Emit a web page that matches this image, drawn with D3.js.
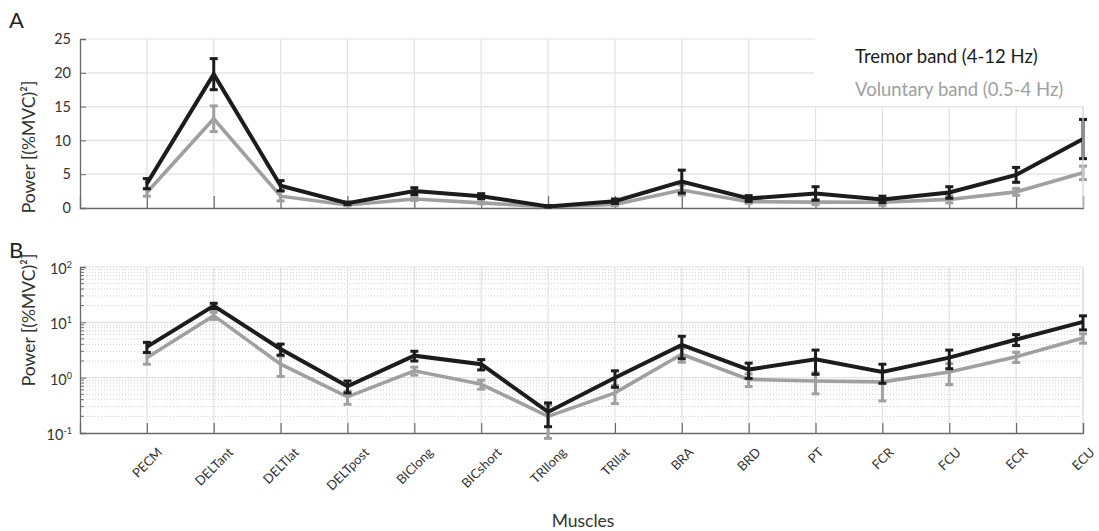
<!DOCTYPE html>
<html>
<head>
<meta charset="utf-8">
<script src="https://cdn.jsdelivr.net/npm/d3@7"></script>
<style>
body{margin:0;background:#fff;}
text{font-family:Lato,'Noto Sans',sans-serif;}
</style>
</head>
<body>
<div id="chart"></div>
<script>
var muscles = ['PECM','DELTant','DELTlat','DELTpost','BIClong','BICshort','TRIlong','TRIlat','BRA','BRD','PT','FCR','FCU','ECR','ECU'];
var tremor = [3.6, 19.8, 3.3, 0.7, 2.5, 1.75, 0.24, 1.0, 3.9, 1.4, 2.15, 1.27, 2.3, 4.9, 10.2];
var tremorErr = [0.75, 2.3, 0.75, 0.17, 0.5, 0.37, 0.11, 0.33, 1.7, 0.43, 1.0, 0.48, 0.85, 1.1, 2.9];
var voluntary = [2.3, 13.2, 1.75, 0.45, 1.33, 0.76, 0.2, 0.53, 2.65, 0.93, 0.87, 0.84, 1.27, 2.38, 5.2];
var voluntaryErr = [0.55, 1.9, 0.7, 0.12, 0.22, 0.14, 0.12, 0.19, 0.75, 0.24, 0.36, 0.46, 0.52, 0.5, 1.0];
var yTicksA = [0, 5, 10, 15, 20, 25];
var yTicksB = [0.1, 1, 10, 100];
var yExpB = ['-1', '0', '1', '2'];
var legendLabels = ['Tremor band (4-12 Hz)', 'Voluntary band (0.5-4 Hz)'];

const width = 1099;
const height = 531;
const left = 80, right = 1083;
const black = '#1c1c1c', grey = '#a0a0a0', gridCol = '#e2e2e2', axisCol = '#6a6a6a';

var svg = d3.select('#chart').append('svg')
    .attr('width', width)
    .attr('height', height);

var xScale = d3.scaleLinear().domain([0, muscles.length]).range([left, right]);
var yA = d3.scaleLinear().domain([0, 25]).range([208, 39]);
var yB = d3.scaleLog().domain([0.1, 100]).range([433, 267]);

var series = [
    {name: 'voluntary', vals: voluntary, err: voluntaryErr, color: grey, w: 3.6},
    {name: 'tremor', vals: tremor, err: tremorErr, color: black, w: 4}
];

function drawPanel(y, top, bottom, isLog){
    var g = svg.append('g');
    // minor dotted grid on log panel
    if (isLog){
        var minor = y.ticks().filter(d => yTicksB.indexOf(d) < 0);
        g.selectAll('.minor').data(minor).join('line')
            .attr('x1', left).attr('x2', right)
            .attr('y1', d => y(d)).attr('y2', d => y(d))
            .attr('stroke', '#cdcdcd').attr('stroke-width', 1)
            .attr('stroke-dasharray', '1,2');
    }
    var majors = isLog ? yTicksB : yTicksA;
    g.selectAll('.hgrid').data(majors.slice(1)).join('line')
        .attr('x1', left).attr('x2', right)
        .attr('y1', d => y(d)).attr('y2', d => y(d))
        .attr('stroke', gridCol).attr('stroke-width', 1.2);
    g.selectAll('.vgrid').data(muscles).join('line')
        .attr('x1', (d, i) => xScale(i + 1)).attr('x2', (d, i) => xScale(i + 1))
        .attr('y1', top).attr('y2', bottom)
        .attr('stroke', gridCol).attr('stroke-width', 1.2);
    g.append('line').attr('x1', right).attr('x2', right).attr('y1', top).attr('y2', bottom)
        .attr('stroke', gridCol).attr('stroke-width', 1.2);

    // bottom axis with inward ticks
    var xAxis = d3.axisBottom(xScale)
        .tickValues(d3.range(1, muscles.length + 1))
        .tickSize(isLog ? -10 : -12)
        .tickFormat('');
    g.append('g').attr('transform', 'translate(0,' + bottom + ')').call(xAxis)
        .call(a => a.select('.domain').attr('stroke', axisCol).attr('stroke-width', 1.3))
        .call(a => a.selectAll('.tick line').attr('stroke', axisCol).attr('stroke-width', 1.2));

    // left axis
    var yAxis = d3.axisLeft(y).tickValues(majors).tickSize(-6).tickPadding(9);
    if (isLog) yAxis.tickFormat('');
    var ya = g.append('g').attr('transform', 'translate(' + left + ',0)').call(yAxis);
    ya.select('.domain').attr('stroke', axisCol).attr('stroke-width', 1.3);
    ya.selectAll('.tick line').attr('stroke', axisCol);
    ya.selectAll('.tick text').attr('fill', '#333').style('font-size', '14.5px')
        .style('font-family', 'Lato, sans-serif');
    if (isLog){
        ya.selectAll('.tick text').each(function(d, i){
            var t = d3.select(this);
            t.attr('x', -8).attr('dy', '0.45em');
            t.append('tspan').text('10');
            t.append('tspan').attr('dy', -6).style('font-size', '9px').text(yExpB[i]);
        });
        var minorT = y.ticks().filter(d => yTicksB.indexOf(d) < 0);
        g.selectAll('.mt').data(minorT).join('line')
            .attr('x1', left).attr('x2', left + 4)
            .attr('y1', d => y(d)).attr('y2', d => y(d))
            .attr('stroke', axisCol).attr('stroke-width', 1);
    }

    // lines and error bars
    series.forEach(function(s){
        var line = d3.line().x((d, i) => xScale(i + 1)).y(d => y(d));
        g.append('path').datum(s.vals)
            .attr('d', line)
            .attr('fill', 'none')
            .attr('stroke', s.color)
            .attr('stroke-width', s.w)
            .attr('stroke-linejoin', 'miter');
        var eb = g.append('g');
        s.vals.forEach(function(v, i){
            var cx = xScale(i + 1);
            var lo = v - s.err[i], hi = v + s.err[i];
            eb.append('line').attr('x1', cx).attr('x2', cx)
                .attr('y1', y(lo)).attr('y2', y(hi))
                .attr('stroke', s.color).attr('stroke-width', 3);
            [lo, hi].forEach(function(e){
                eb.append('line').attr('x1', cx - 4).attr('x2', cx + 4)
                    .attr('y1', y(e)).attr('y2', y(e))
                    .attr('stroke', s.color).attr('stroke-width', 3);
            });
        });
    });
    return g;
}

drawPanel(yA, 39, 208, false);
drawPanel(yB, 267, 433, true);

// legend box (white background over grid)
svg.append('rect').attr('x', 815).attr('y', 30).attr('width', 280).attr('height', 76).attr('fill', '#fff');
svg.append('line').attr('x1', right).attr('x2', right).attr('y1', 106).attr('y2', 208)
    .attr('stroke', gridCol).attr('stroke-width', 1.2);
svg.selectAll('.leg').data(legendLabels).join('text')
    .attr('x', 855)
    .attr('y', (d, i) => 63 + i * 33)
    .attr('fill', (d, i) => i == 0 ? black : grey)
    .style('font-size', '18.5px')
    .text(d => d);

// panel letters
svg.append('text').attr('x', 9).attr('y', 28).style('font-size', '22px').attr('fill', '#222').text('A');
svg.append('text').attr('x', 9).attr('y', 258).style('font-size', '22px').attr('fill', '#222').text('B');

// y titles
[147, 320].forEach(function(cy){
    svg.append('text')
        .attr('transform', 'translate(35,' + cy + ') rotate(-90)')
        .attr('text-anchor', 'middle')
        .attr('fill', '#333')
        .style('font-size', '17.5px')
        .text('Power [(%MVC)²]');
});

// rotated muscle labels, bbox centred on tick, top near y=445
var xFont = 13;
svg.selectAll('.xl').data(muscles).join('text')
    .attr('text-anchor', 'middle')
    .attr('dominant-baseline', 'central')
    .attr('fill', '#333')
    .style('font-size', xFont + 'px')
    .text(d => d)
    .attr('transform', function(d, i){
        var L = this.getComputedTextLength();
        var cy = 445 + (L + xFont) * 0.354;
        return 'translate(' + xScale(i + 1) + ',' + cy + ') rotate(-45)';
    });

svg.append('text').attr('x', 583).attr('y', 527)
    .attr('text-anchor', 'middle')
    .attr('fill', '#333')
    .style('font-size', '17.5px')
    .text('Muscles');
</script>
</body>
</html>
